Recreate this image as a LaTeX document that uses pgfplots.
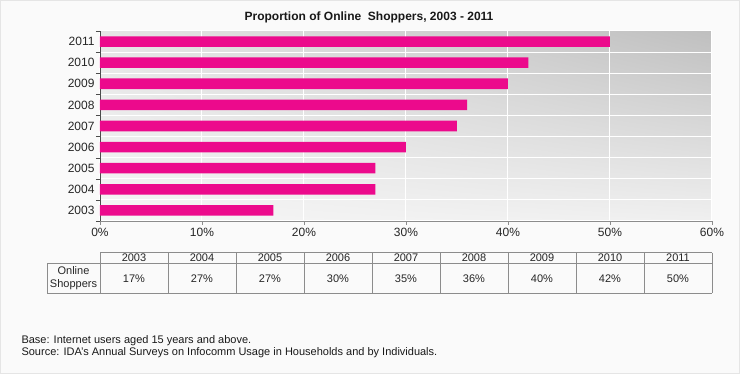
\documentclass[border=0pt]{standalone}
\usepackage{pgfplots}
\pgfplotsset{compat=1.18}
\usetikzlibrary{shadings}
\usepackage{fontspec}
\setmainfont{Liberation Sans}
\definecolor{barpink}{HTML}{EC0A8C}
\definecolor{tline}{HTML}{8C8C8C}
\begin{document}
\begin{tikzpicture}[x=1pt,y=1pt]
\fill[black!2] (0,0) rectangle (740,374);
\draw[black!10] (0.5,0.5) rectangle (739.5,373.5);
\node[font=\bfseries\fontsize{12}{14}\selectfont, text=black!90] at (369,357) {Proportion of Online\ \ Shoppers, 2003 - 2011};
\begin{axis}[at={(100pt,153pt)}, anchor=south west, scale only axis,
  width=612pt, height=190pt,
  xbar, bar width=0.5,
  xmin=0, xmax=60, ymin=0.5, ymax=9.5,
  axis lines=left, axis line style={-},
  x axis line style={tline},
  y axis line style={black!70},
  tick align=outside, major tick length=4pt,
  xtick={0,10,...,60},
  xticklabels={0\%,10\%,20\%,30\%,40\%,50\%,60\%},
  xtick style={tline},
  ytick={0.5,1.5,...,9.5},
  yticklabels={},
  ytick style={black!70},
  extra y ticks={1,2,3,4,5,6,7,8,9},
  extra y tick labels={2003,2004,2005,2006,2007,2008,2009,2010,2011},
  extra y tick style={major tick length=0pt, grid=none},
  xmajorgrids, ymajorgrids,
  grid style={white, line width=1pt},
  tick label style={font=\fontsize{12}{14}\selectfont, text=black!85},
  yticklabel style={xshift=-2pt},
  axis background/.style={shade, upper left=black!10, upper right=black!25, lower left=black!4, lower right=black!6},
]
\addplot[fill=barpink, draw=none] coordinates {(17,1) (27,2) (27,3) (30,4) (35,5) (36,6) (40,7) (42,8) (50,9)};
\end{axis}
% data table
\begin{scope}[tline]
\draw (100,121.3) -- (712,121.3);
\draw (47,110.7) -- (712,110.7);
\draw (47,80.7) -- (712,80.7);
\draw (47,110.7) -- (47,80.7);
\foreach \k in {0,...,9} { \draw ({100+68*\k},121.3) -- ({100+68*\k},80.7); }
\end{scope}
\foreach \yr [count=\i from 0] in {2003,2004,2005,2006,2007,2008,2009,2010,2011}
  \node[font=\fontsize{11}{13}\selectfont, text=black!85] at ({134+68*\i},116) {\yr};
\foreach \v [count=\i from 0] in {17,27,27,30,35,36,40,42,50}
  \node[font=\fontsize{11}{13}\selectfont, text=black!85] at ({134+68*\i},95.7) {\v\%};
\node[font=\fontsize{11}{12.5}\selectfont, text=black!85, align=center] at (73.5,95.7) {Online\\Shoppers};
\node[anchor=west, font=\fontsize{11}{13}\selectfont, text=black!90] at (18,33.3) {Base: Internet users aged 15 years and above.};
\node[anchor=west, font=\fontsize{11}{13}\selectfont, text=black!90] at (18,21.5) {Source: IDA's Annual Surveys on Infocomm Usage in Households and by Individuals.};
\end{tikzpicture}
\end{document}
